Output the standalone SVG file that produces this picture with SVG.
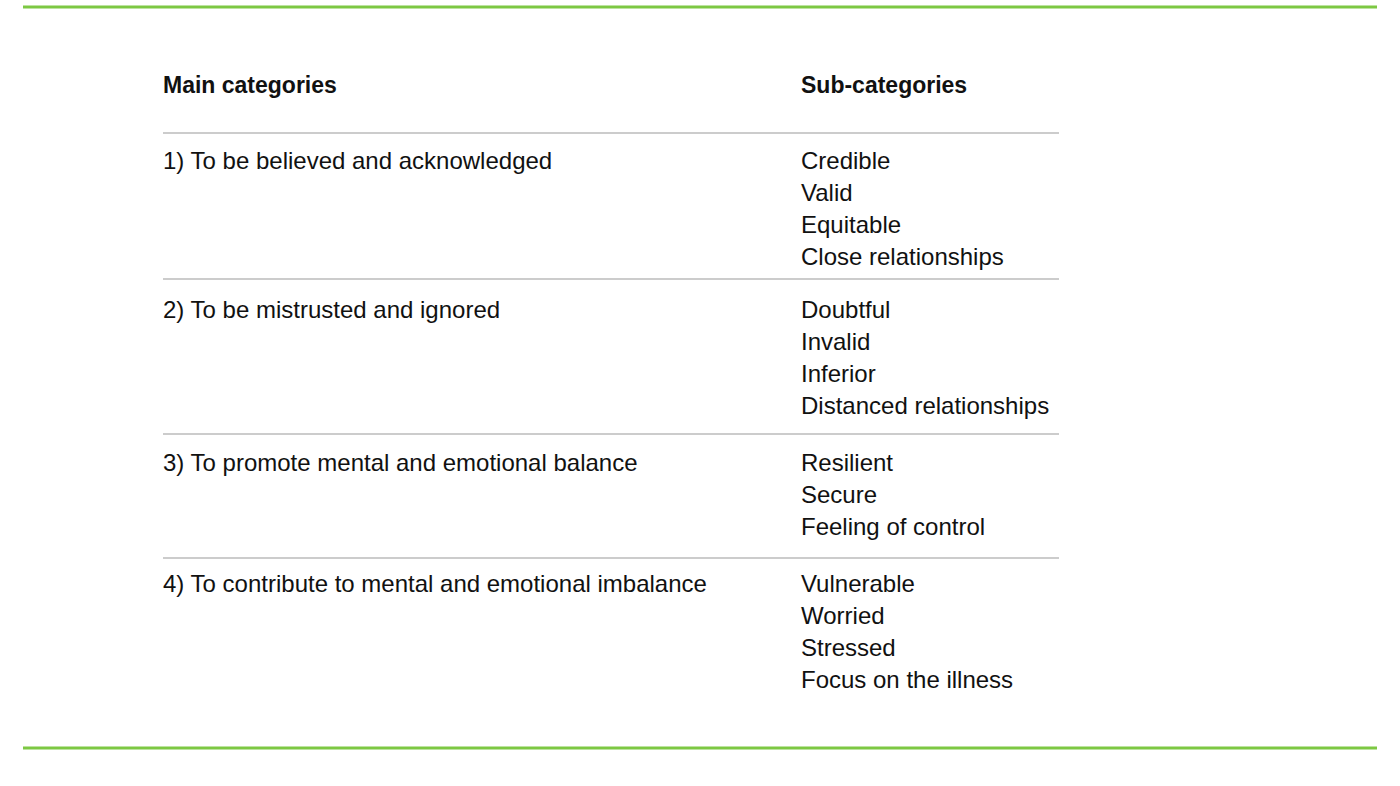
<svg xmlns="http://www.w3.org/2000/svg" width="1400" height="786" viewBox="0 0 1400 786">
<style>
text{font-family:"Liberation Sans",Arial,sans-serif;font-size:24px;fill:#111}
.h{font-weight:bold;font-size:23px}
.g{stroke:#7dc843;stroke-width:3}
.s{stroke:#999;stroke-width:1.2}
</style>
<rect width="1400" height="786" fill="#fff"/>
<line class="g" x1="23" y1="7" x2="1377" y2="7"/>
<line class="g" x1="23" y1="748" x2="1377" y2="748"/>
<g id="header"><text class="h" x="163" y="93">Main categories</text><text class="h" x="801" y="93">Sub-categories</text></g>
<g id="rules">
<line class="s" x1="163" y1="133" x2="1059" y2="133"/>
<line class="s" x1="163" y1="279" x2="1059" y2="279"/>
<line class="s" x1="163" y1="434" x2="1059" y2="434"/>
<line class="s" x1="163" y1="558" x2="1059" y2="558"/>
</g>
<g id="row1"><text x="163" y="169">1) To be believed and acknowledged</text>
<text x="801" y="169">Credible</text><text x="801" y="201">Valid</text><text x="801" y="233">Equitable</text><text x="801" y="265">Close relationships</text></g>
<g id="row2"><text x="163" y="318">2) To be mistrusted and ignored</text>
<text x="801" y="318">Doubtful</text><text x="801" y="350">Invalid</text><text x="801" y="382">Inferior</text><text x="801" y="414">Distanced relationships</text></g>
<g id="row3"><text x="163" y="471">3) To promote mental and emotional balance</text>
<text x="801" y="471">Resilient</text><text x="801" y="503">Secure</text><text x="801" y="535">Feeling of control</text></g>
<g id="row4"><text x="163" y="592">4) To contribute to mental and emotional imbalance</text>
<text x="801" y="592">Vulnerable</text><text x="801" y="624">Worried</text><text x="801" y="656">Stressed</text><text x="801" y="688">Focus on the illness</text></g>
</svg>
